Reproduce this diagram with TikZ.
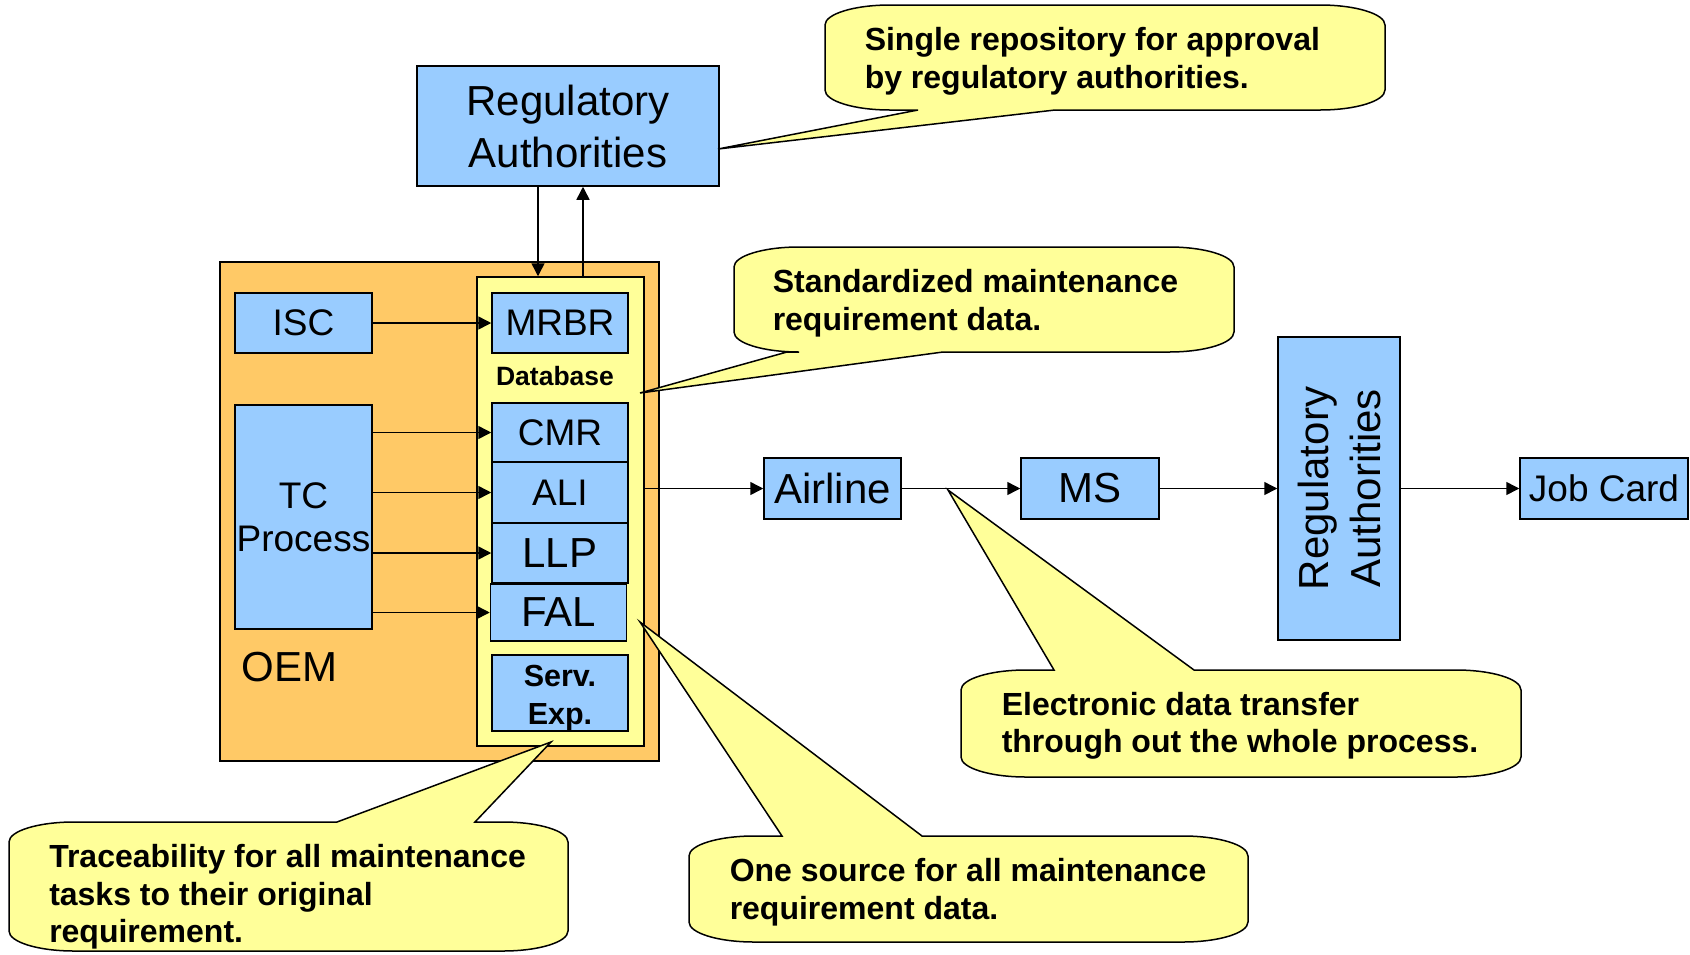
\documentclass[tikz,border=0pt]{standalone}
\usepackage{fontspec}
\setmainfont{Liberation Sans}
\usetikzlibrary{arrows.meta}

\definecolor{boxblue}{HTML}{99CCFF}
\definecolor{oemorange}{HTML}{FFC966}
\definecolor{noteyellow}{HTML}{FFFF99}

% callout body (#1,#2)-(#3,#4), wedge base #5..#6 on the top edge, tip at #7
\newcommand{\noteup}[7]{%
  \draw[note] (#1,#2+20) .. controls (#1,#2+9) and (#1+29,#2) .. (#1+65,#2)
    -- (#5,#2) -- (#7) -- (#6,#2)
    -- (#3-65,#2) .. controls (#3-29,#2) and (#3,#2+9) .. (#3,#2+20)
    -- (#3,#4-20) .. controls (#3,#4-9) and (#3-29,#4) .. (#3-65,#4)
    -- (#1+65,#4) .. controls (#1+29,#4) and (#1,#4-9) .. (#1,#4-20) -- cycle;}
% same, wedge on the bottom edge
\newcommand{\notedown}[7]{%
  \draw[note] (#1,#2+20) .. controls (#1,#2+9) and (#1+29,#2) .. (#1+65,#2)
    -- (#3-65,#2) .. controls (#3-29,#2) and (#3,#2+9) .. (#3,#2+20)
    -- (#3,#4-20) .. controls (#3,#4-9) and (#3-29,#4) .. (#3-65,#4)
    -- (#6,#4) -- (#7) -- (#5,#4)
    -- (#1+65,#4) .. controls (#1+29,#4) and (#1,#4-9) .. (#1,#4-20) -- cycle;}

\begin{document}
\begin{tikzpicture}[x=1pt, y=-1pt,
    box/.style={draw, line width=1.5pt, fill=boxblue, inner sep=0pt, align=center,
      font=\fontsize{37}{43}\selectfont},
    big/.style={font=\fontsize{42}{52}\selectfont},
    note/.style={draw, line width=1.5pt, fill=noteyellow, line join=miter},
    notetext/.style={anchor=west, align=left, inner sep=0pt,
      font=\fontsize{32}{37.5}\selectfont\bfseries},
    >={Triangle[length=13pt, width=13pt]}, every path/.style={line width=1.5pt}]
    \useasboundingbox (0,0) rectangle (1690,954);

    \node (reg) at (568, 126) [box, big, minimum width=302, minimum height=120] {Regulatory\\Authorities};

    \node (oem) at (439.5, 511.5) [draw, line width=1.5pt, fill=oemorange, minimum width=439, minimum height=499] {};
    \node at (241, 667) [anchor=west, inner sep=0pt, big] {OEM};
    \node (db) at (560.5, 511.5) [draw, line width=1.5pt, fill=noteyellow, minimum width=167, minimum height=469] {};
    \node at (555, 376) [font=\fontsize{26.5}{30}\selectfont\bfseries] {Database};

    \node (isc) at (303.5, 323) [box, minimum width=137, minimum height=60] {ISC};
    \node (tc) at (303.5, 517) [box, minimum width=137, minimum height=224] {TC\\Process};
    \node (mrbr) at (560, 323) [box, minimum width=136, minimum height=60] {MRBR};
    \node (cmr) at (560, 432.5) [box, minimum width=136, minimum height=59] {CMR};
    \node (ali) at (560, 492.5) [box, minimum width=136, minimum height=61] {ALI};
    \node (llp) at (560, 553) [box, big, minimum width=136, minimum height=60] {LLP};
    \node (fal) at (558.5, 612.5) [box, big, minimum width=136, minimum height=57] {FAL};
    \node (serv) at (560, 693) [box, minimum width=136, minimum height=76] {};
    \node at ([yshift=-5pt]serv.center) [align=center, font=\fontsize{30.5}{37.5}\selectfont\bfseries] {Serv.\\Exp.};

    \node (airline) at (832.5, 488.5) [box, big, minimum width=137, minimum height=61] {Airline};
    \node (ms) at (1090, 488.5) [box, big, minimum width=138, minimum height=61] {MS};
    \node (regside) at (1339, 488.5) [box, big, rotate=90, minimum width=303, minimum height=122] {Regulatory\\Authorities};
    \node (job) at (1604, 488.5) [box, minimum width=168, minimum height=61] {Job Card};

    \coordinate (down) at ([xshift=-30pt]reg.south);
    \coordinate (up) at ([xshift=15pt]reg.south);
    \draw[->] (down) -- (down |- db.north);
    \draw[->] (up |- db.north) -- (up);
    \draw[->] (isc) -- (mrbr);
    \draw[->] (tc.east |- cmr.west) -- (cmr.west);
    \draw[->] (tc.east |- ali.west) -- (ali.west);
    \draw[->] (tc.east |- llp.west) -- (llp.west);
    \draw[->] (tc.east |- fal.west) -- (fal.west);
    \draw[->] (db.east |- airline.west) -- (airline.west);
    \draw[->] (airline) -- (ms);
    \draw[->] (ms) -- (regside);
    \draw[->] (regside) -- (job);

    % callouts
    \coordinate (tipreg) at (718, 149);
    \coordinate (tipstd) at (640, 393);
    \coordinate (tipedt) at (948, 490);
    \coordinate (tipone) at (640, 622);
    \coordinate (tiptrc) at (551, 742);
    \notedown{825}{5}{1385}{110}{918}{1055}{tipreg}
    \node at (864, 61.5) [notetext] {Single repository for approval\\by regulatory authorities.};
    \notedown{734}{247}{1234}{352}{787}{943}{tipstd}
    \node at (772, 303) [notetext] {Standardized maintenance\\requirement data.};
    \noteup{961}{670}{1521}{777}{1054}{1194}{tipedt}
    \node at (1001, 726) [notetext] {Electronic data transfer\\through out the whole process.};
    \noteup{689}{836}{1248}{942}{782}{922}{tipone}
    \node at (729, 892) [notetext] {One source for all maintenance\\requirement data.};
    \noteup{9}{822}{568}{951}{337}{475}{tiptrc}
    \node at (48.5, 897) [notetext] {Traceability for all maintenance\\tasks to their original\\requirement.};
\end{tikzpicture}
\end{document}
